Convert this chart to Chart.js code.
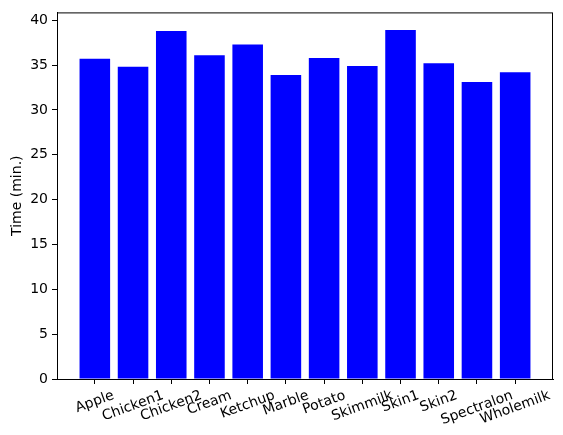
<!DOCTYPE html>
<html>
<head>
<meta charset="utf-8">
<script src="https://cdn.jsdelivr.net/npm/chart.js@4/dist/chart.umd.min.js"></script>
<style>
  html, body { margin: 0; padding: 0; background: #fff; }
  #wrap { width: 563px; height: 435px; }
</style>
</head>
<body>
<div id="wrap"><canvas id="chart" width="563" height="435"></canvas></div>
<script>
// data
const samples = ['Apple', 'Chicken1', 'Chicken2', 'Cream', 'Ketchup', 'Marble',
                 'Potato', 'Skimmilk', 'Skin1', 'Skin2', 'Spectralon', 'Wholemilk'];
const times = [35.7, 34.8, 38.8, 36.1, 37.3, 33.9, 35.8, 34.9, 38.9, 35.2, 33.1, 34.2];
const yTicks = [0, 5, 10, 15, 20, 25, 30, 35, 40];

const FONT = 'DejaVu Sans';
const FS = 14;

// outer frame (matplotlib spines)
const framePlugin = {
  id: 'frame',
  afterDraw(chart) {
    const {ctx, chartArea: a} = chart;
    ctx.save();
    ctx.strokeStyle = '#000';
    ctx.lineWidth = 1;
    ctx.strokeRect(a.left + 0.5, a.top + 0.5, a.right - a.left - 1, a.bottom - a.top);
    ctx.restore();
  }
};

// rotated x labels, centred on the tick like matplotlib's ha='center'
const xLabelPlugin = {
  id: 'xlabels',
  afterDraw(chart) {
    const {ctx} = chart;
    const xs = chart.scales.x;
    const ang = 20 * Math.PI / 180;
    const top = chart.chartArea.bottom + 10;
    ctx.save();
    ctx.font = FS + 'px "' + FONT + '"';
    ctx.fillStyle = '#000';
    ctx.textAlign = 'center';
    ctx.textBaseline = 'middle';
    samples.forEach((s, i) => {
      const w = ctx.measureText(s).width;
      const h = 13;
      const bh = w * Math.sin(ang) + h * Math.cos(ang);
      const x = xs.getPixelForValue(i);
      ctx.save();
      ctx.translate(x, top + bh / 2);
      ctx.rotate(-ang);
      ctx.fillText(s, 0, 0);
      ctx.restore();
    });
    ctx.restore();
  }
};

new Chart(document.getElementById('chart'), {
  type: 'bar',
  data: {
    datasets: [{
      data: times.map((v, i) => ({x: i, y: v})),
      backgroundColor: '#0000ff',
      borderWidth: 0,
      categoryPercentage: 1,
      barPercentage: 0.8
    }]
  },
  options: {
    responsive: false,
    animation: false,
    layout: { padding: { top: 9, right: 10, left: 0, bottom: 0 } },
    plugins: { legend: { display: false }, tooltip: { enabled: false } },
    scales: {
      x: {
        type: 'linear',
        min: -0.99,
        max: 11.99,
        offset: false,
        afterBuildTicks: s => { s.ticks = samples.map((_, i) => ({value: i})); },
        afterFit: s => { s.height = 56; },
        ticks: { display: false },
        grid: { offset: false, drawOnChartArea: false, drawTicks: true, tickLength: 5, color: '#000' },
        border: { display: true, color: '#000' }
      },
      y: {
        min: 0,
        max: 40.87,
        afterBuildTicks: s => { s.ticks = yTicks.map(v => ({value: v})); },
        afterFit: s => { s.width = 57; },
        ticks: { color: '#000', padding: 4, font: { family: FONT, size: FS } },
        grid: { drawOnChartArea: false, drawTicks: true, tickLength: 5, color: '#000' },
        border: { display: true, color: '#000' },
        title: {
          display: true,
          text: 'Time (min.)',
          color: '#000',
          padding: { top: 9, bottom: 0 },
          font: { family: FONT, size: FS }
        }
      }
    }
  },
  plugins: [framePlugin, xLabelPlugin]
});
</script>
</body>
</html>
